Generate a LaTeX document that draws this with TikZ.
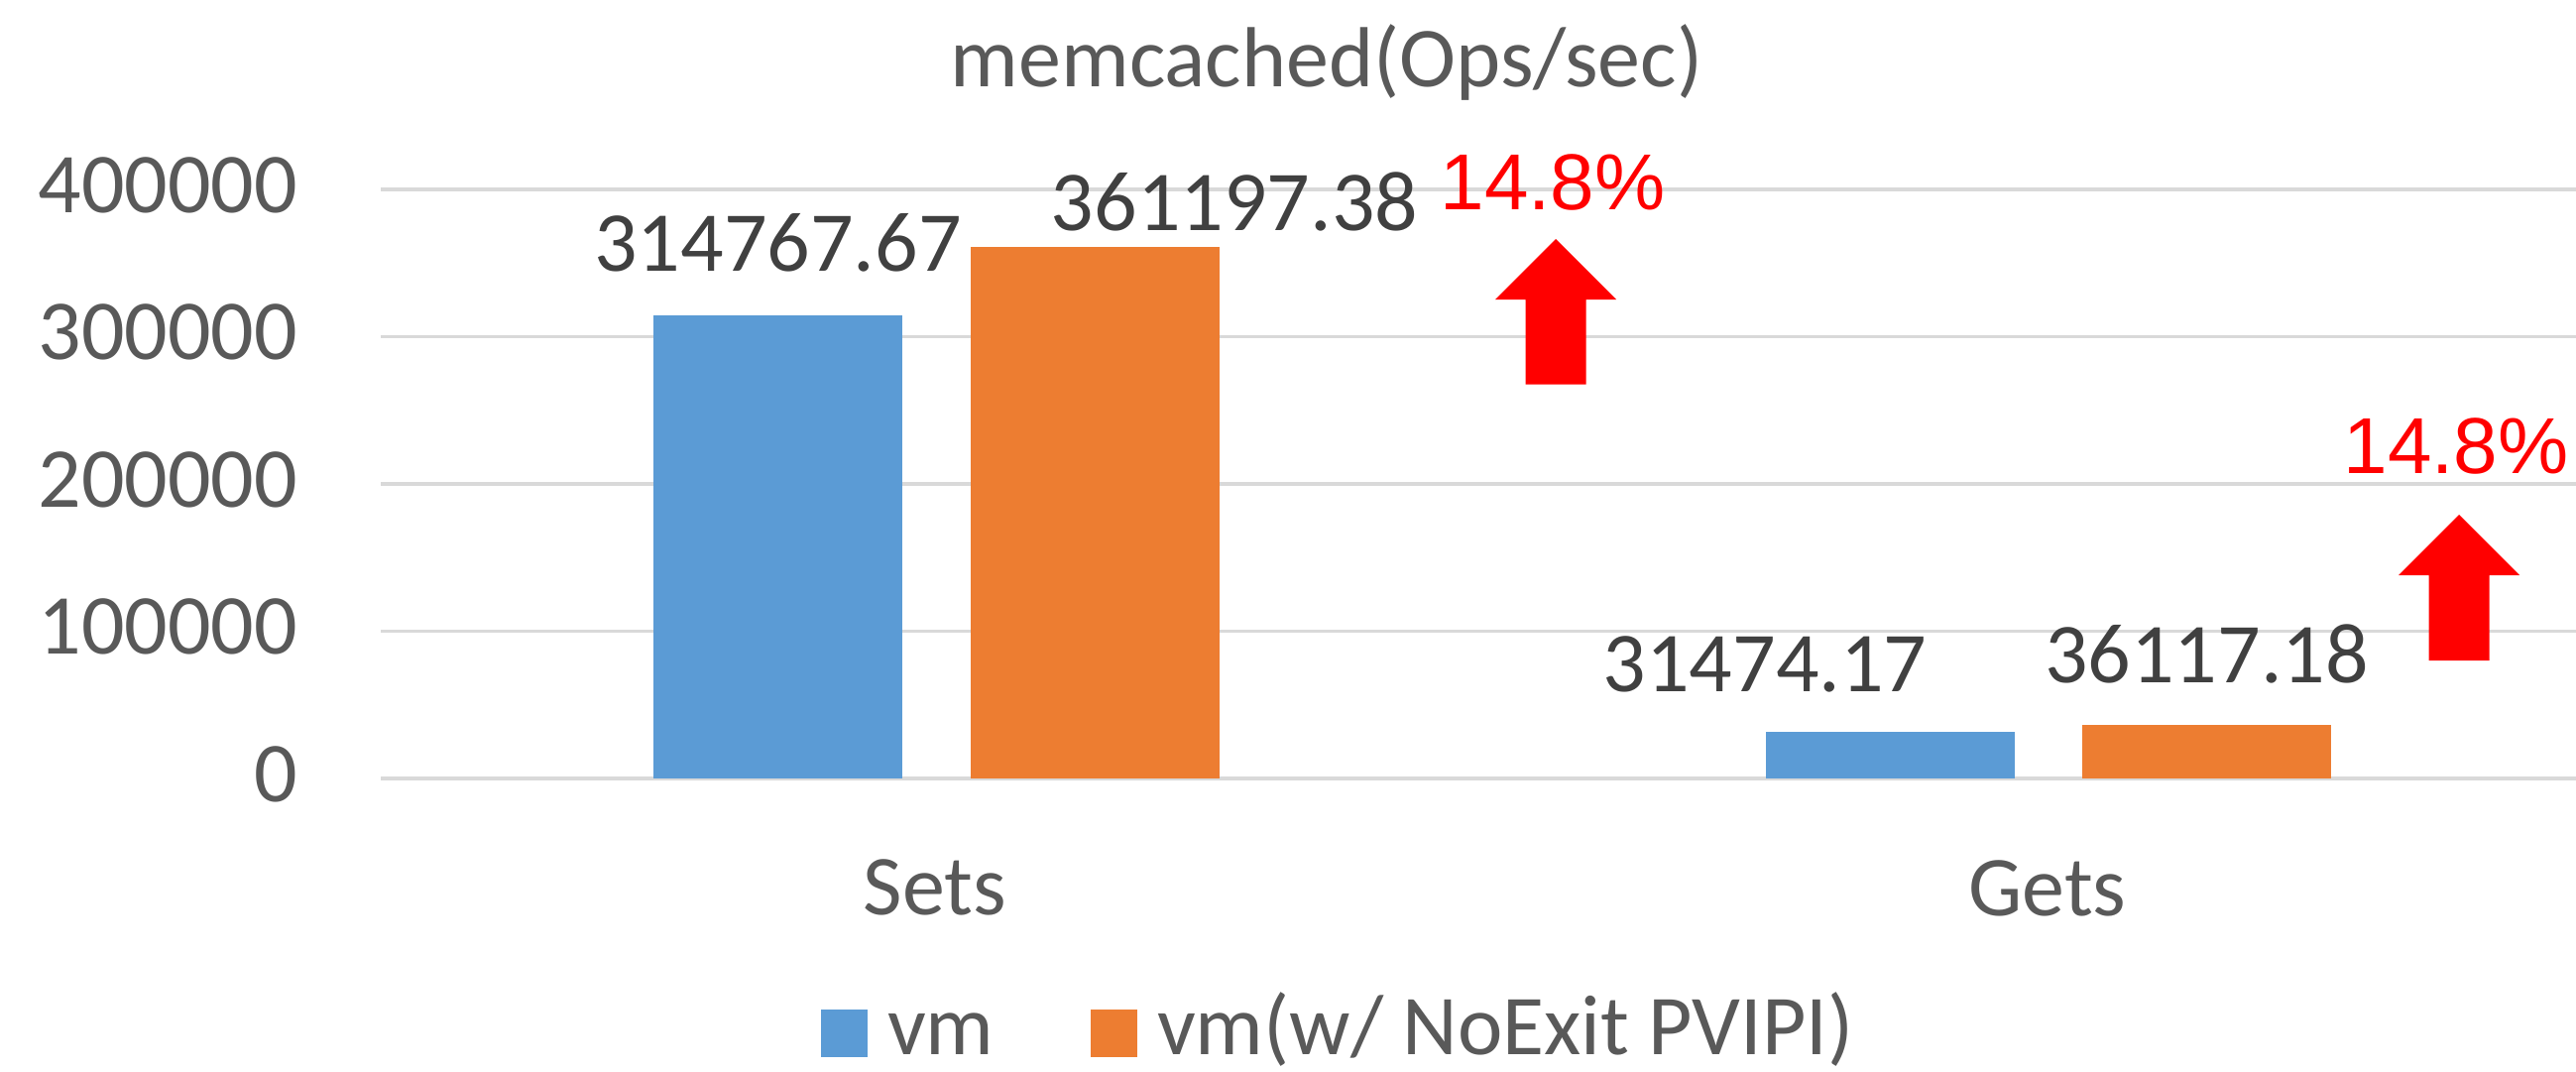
\documentclass[tikz,border=0pt]{standalone}
\usepackage{fontspec}
\setmainfont{Carlito}
\newfontfamily\arialfont{Liberation Sans}
\definecolor{vmblue}{HTML}{5B9BD5}
\definecolor{vmorange}{HTML}{ED7D31}
\definecolor{gridgray}{HTML}{D9D9D9}
\definecolor{axisgray}{HTML}{595959}
\definecolor{valgray}{HTML}{404040}
\definecolor{upred}{HTML}{FF0000}
\tikzset{
  chartfont/.style={font=\fontsize{86}{100}\selectfont, inner sep=0pt, outer sep=0pt},
  axislabel/.style={chartfont, text=axisgray, anchor=base east},
  vallabel/.style={chartfont, text=valgray, anchor=base},
  catlabel/.style={chartfont, text=axisgray, anchor=base},
  legendtext/.style={chartfont, text=axisgray, anchor=base west},
  pctlabel/.style={font=\arialfont\fontsize{80}{90}\selectfont, text=upred, inner sep=0pt, outer sep=0pt, anchor=base},
  gridline/.style={draw=gridgray, line width=3.5pt},
  uparrow/.style={fill=upred},
}
\begin{document}
\begin{tikzpicture}[x=1pt,y=-1pt]
\useasboundingbox (0,0) rectangle (2598,1080);
\fill[white] (0,0) rectangle (2598,1080);

% title
\node[chartfont, text=axisgray, anchor=base] (title) at (1338,87) {memcached(Ops/sec)};

% grid lines
\foreach \v/\y in {0/785, 1/636.5, 2/488, 3/339.5, 4/191} {
  \draw[gridline] (384,\y) -- (2598,\y);
}

% axis labels
\node[axislabel] (y4) at (300,214) {400000};
\node[axislabel] (y3) at (300,362.5) {300000};
\node[axislabel] (y2) at (300,511) {200000};
\node[axislabel] (y1) at (300,659.5) {100000};
\node[axislabel] (y0) at (300,808) {0};

% bars
\fill[vmblue]   (659,785) rectangle (910,317.6);
\fill[vmorange] (979,785) rectangle (1230,248.6);
\fill[vmblue]   (1781,785) rectangle (2032,738.3);
\fill[vmorange] (2100,785) rectangle (2351,731.4);

% value labels
\node[vallabel] (v1) at (784.5,273) {314767.67};
\node[vallabel] (v2) at (1245,232) {361197.38};
\node[vallabel] (v3) at (1780,697) {31474.17};
\node[vallabel] (v4) at (2225.5,688) {36117.18};

% category labels
\node[catlabel] (sets) at (943,922.5) {Sets};
\node[catlabel] (gets) at (2065,923) {Gets};

% percentage labels
\node[pctlabel] (p1) at (1566,211) {14.8\%};
\node[pctlabel] (p2) at (2477,477) {14.8\%};

% arrows
\fill[uparrow] (1569,241) -- ++(61,61) -- ++(-30.5,0) -- ++(0,85.5) -- ++(-61,0) -- ++(0,-85.5) -- ++(-30.5,0) -- cycle;
\fill[uparrow] (2480,519) -- ++(61,61) -- ++(-30.5,0) -- ++(0,86) -- ++(-61,0) -- ++(0,-86) -- ++(-30.5,0) -- cycle;

% legend
\fill[vmblue] (828,1018) rectangle (875,1066);
\node[legendtext] (l1) at (895,1063.5) {vm};
\fill[vmorange] (1100,1018) rectangle (1147,1066);
\node[legendtext] (l2) at (1167,1063.5) {vm(w/ NoExit PVIPI)};
\end{tikzpicture}
\end{document}
